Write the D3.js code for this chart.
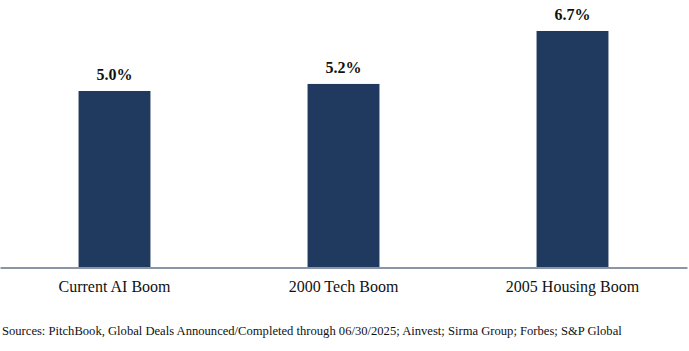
<!DOCTYPE html>
<html>
<head>
<meta charset="utf-8">
<script src="https://cdn.jsdelivr.net/npm/d3@7"></script>
<style>
  body { margin: 0; background: #fff; }
  text { font-family: "Liberation Serif", "Times New Roman", serif; fill: #111; }
</style>
</head>
<body>
<div id="chart"></div>
<script>
var categories = ["Current AI Boom", "2000 Tech Boom", "2005 Housing Boom"];
var values = [5.0, 5.2, 6.7];
var valueLabels = ["5.0%", "5.2%", "6.7%"];
var sourceText = "Sources: PitchBook, Global Deals Announced/Completed through 06/30/2025; Ainvest; Sirma Group; Forbes; S&P Global";

var width = 689, height = 351;
var baseY = 267.5;

var svg = d3.select("#chart").append("svg")
    .attr("width", width)
    .attr("height", height);

var x = d3.scaleBand()
    .domain(categories)
    .range([0, 687])
    .paddingInner(0.686)
    .paddingOuter(0.343);

var y = d3.scaleLinear()
    .domain([0, 7.5])
    .range([baseY, 2.75]);

var data = categories.map(function(c, i) {
  return {cat: c, val: values[i], label: valueLabels[i]};
});

// bars
svg.selectAll(".bar")
  .data(data)
  .enter().append("rect")
    .attr("class", "bar")
    .attr("x", function(d) { return x(d.cat); })
    .attr("y", function(d) { return y(d.val); })
    .attr("width", x.bandwidth())
    .attr("height", function(d) { return baseY - y(d.val); })
    .attr("fill", "#203a5f");

// value labels
svg.selectAll(".val")
  .data(data)
  .enter().append("text")
    .attr("class", "val")
    .attr("x", function(d) { return x(d.cat) + x.bandwidth() / 2; })
    .attr("y", function(d) { return y(d.val) - 11; })
    .attr("text-anchor", "middle")
    .style("font-size", "16px")
    .style("font-weight", "bold")
    .text(function(d) { return d.label; });

// x axis
var xAxis = d3.axisBottom(x).tickSize(0).tickPadding(13);
var gx = svg.append("g")
    .attr("transform", "translate(0," + baseY + ")")
    .call(xAxis);
gx.select(".domain")
    .attr("stroke", "#8a95a8")
    .attr("stroke-width", 2);
gx.selectAll("text")
    .style("font-size", "16px")
    .style("font-family", "'Liberation Serif', serif")
    .attr("fill", "#111");

// source note
svg.append("text")
    .attr("x", 2)
    .attr("y", 335)
    .style("font-size", "12.6px")
    .text(sourceText);
</script>
</body>
</html>
